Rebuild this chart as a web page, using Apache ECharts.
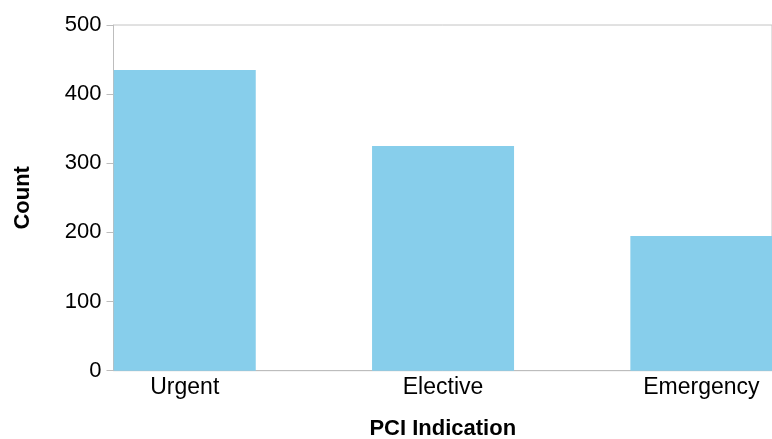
<!DOCTYPE html>
<html>
<head>
<meta charset="utf-8">
<script src="https://cdn.jsdelivr.net/npm/echarts@6/dist/echarts.min.js"></script>
<style>
html,body{margin:0;padding:0;background:#fff;}
#chart{width:772px;height:439px;}
</style>
</head>
<body>
<div id="chart"></div>
<script>
const categories = ['Urgent', 'Elective', 'Emergency'];
const counts = [435, 325, 195];
const yTicks = { min: 0, max: 500, interval: 100 };
const xTitle = 'PCI Indication';
const yTitle = 'Count';

const font = '"Liberation Sans", Arial, Helvetica, sans-serif';
const chart = echarts.init(document.getElementById('chart'), null, { renderer: 'canvas' });
chart.setOption({
  animation: false,
  backgroundColor: '#fff',
  grid: [
    { left: 113.5, top: 25, width: 658.5, height: 345.7, show: true, borderColor: '#c4c4c4', borderWidth: 1, backgroundColor: 'transparent', containLabel: false, outerBoundsMode: 'none' },
    { left: 55.6, top: 25, width: 774.9, height: 345.7, containLabel: false, outerBoundsMode: 'none' }
  ],
  xAxis: [
    {
      gridIndex: 0, type: 'category', data: categories,
      axisLine: { show: true, lineStyle: { color: '#bdbdbd', width: 1 } },
      axisTick: { show: false }, axisLabel: { show: false },
      name: xTitle, nameLocation: 'middle', nameGap: 47,
      nameTextStyle: { fontFamily: font, fontSize: 22, fontWeight: 'bold', color: '#000' }
    },
    {
      gridIndex: 1, type: 'category', data: categories,
      axisLine: { show: false }, axisTick: { show: false },
      axisLabel: { fontFamily: font, fontSize: 23, color: '#000', margin: 5 }
    }
  ],
  yAxis: [
    {
      gridIndex: 0, type: 'value', min: yTicks.min, max: yTicks.max, interval: yTicks.interval,
      axisLine: { show: true, lineStyle: { color: '#bdbdbd', width: 1 } },
      axisTick: { show: true, length: 7, lineStyle: { color: '#bdbdbd' } },
      axisLabel: { fontFamily: font, fontSize: 22, color: '#000', margin: 12 },
      splitLine: { show: false },
      name: yTitle, nameLocation: 'middle', nameGap: 80, nameRotate: 90,
      nameTextStyle: { fontFamily: font, fontSize: 22, fontWeight: 'bold', color: '#000' }
    },
    {
      gridIndex: 1, type: 'value', min: yTicks.min, max: yTicks.max, interval: yTicks.interval,
      show: false, splitLine: { show: false }
    }
  ],
  series: [{
    type: 'bar',
    xAxisIndex: 1, yAxisIndex: 1,
    data: counts,
    barWidth: 142,
    itemStyle: { color: '#87CEEB' },
    z: 1
  }]
});
</script>
</body>
</html>
